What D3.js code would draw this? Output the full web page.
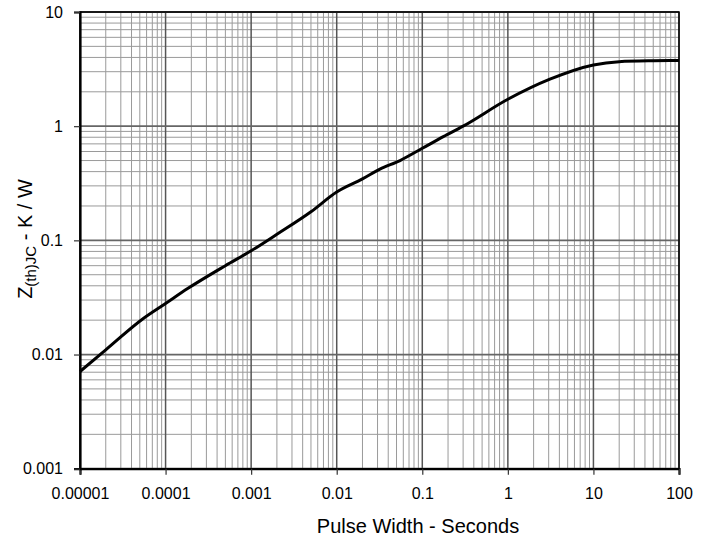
<!DOCTYPE html>
<html><head><meta charset="utf-8">
<script src="https://cdn.jsdelivr.net/npm/d3@7"></script>
<style>body{margin:0;background:#fff}svg{display:block}text{font-family:"Liberation Sans",Arial,sans-serif}</style>
</head><body>
<svg id="c" width="712" height="544"></svg>
<script>
const pulseWidth = [1e-5, 2e-5, 5.4e-5, 1e-4, 1.83e-4, 5e-4, 1e-3, 2e-3, 5e-3, 0.01, 0.02, 0.032, 0.055, 0.1, 0.176, 0.3, 1, 3.1, 10, 20, 50, 100];
const zthjc      = [0.0071, 0.011, 0.0205, 0.028, 0.038, 0.060, 0.081, 0.113, 0.178, 0.265, 0.345, 0.42, 0.50, 0.64, 0.81, 1.0, 1.72, 2.58, 3.44, 3.67, 3.74, 3.76];
const xTicks = [1e-5, 1e-4, 1e-3, 1e-2, 1e-1, 1, 10, 100];
const xTickLabels = ["0.00001", "0.0001", "0.001", "0.01", "0.1", "1", "10", "100"];
const yTicks = [0.001, 0.01, 0.1, 1, 10];
const yTickLabels = ["0.001", "0.01", "0.1", "1", "10"];

const L = 80, R = 679, T = 12, B = 468.7;
const x = d3.scaleLog().domain([1e-5, 100]).range([L, R]);
const y = d3.scaleLog().domain([0.001, 10]).range([B, T]);
const svg = d3.select("#c");

// minor grid
const minorX = [], minorY = [];
for (let e = -5; e < 2; e++) for (let m = 2; m <= 9; m++) minorX.push(m * Math.pow(10, e));
for (let e = -3; e < 1; e++) for (let m = 2; m <= 9; m++) minorY.push(m * Math.pow(10, e));
const g = svg.append("g");
g.selectAll(".mx").data(minorX).enter().append("line")
  .attr("x1", d => x(d)).attr("x2", d => x(d)).attr("y1", T).attr("y2", B)
  .attr("stroke", "#9a9a9a").attr("stroke-width", 1);
g.selectAll(".my").data(minorY).enter().append("line")
  .attr("y1", d => y(d)).attr("y2", d => y(d)).attr("x1", L).attr("x2", R)
  .attr("stroke", "#9a9a9a").attr("stroke-width", 1);
g.selectAll(".Mx").data(xTicks).enter().append("line")
  .attr("x1", d => x(d)).attr("x2", d => x(d)).attr("y1", T).attr("y2", B)
  .attr("stroke", "#555").attr("stroke-width", 1.5);
g.selectAll(".My").data(yTicks).enter().append("line")
  .attr("y1", d => y(d)).attr("y2", d => y(d)).attr("x1", L).attr("x2", R)
  .attr("stroke", "#666").attr("stroke-width", 1.8);

// frame
svg.append("rect").attr("x", L).attr("y", T).attr("width", R - L).attr("height", B - T)
  .attr("fill", "none").attr("stroke", "#000").attr("stroke-width", 1.5);

// axes
const xAxis = d3.axisBottom(x).tickValues(xTicks).tickFormat((d, i) => xTickLabels[i]).tickSize(6).tickPadding(13);
const yAxis = d3.axisLeft(y).tickValues(yTicks).tickFormat((d, i) => yTickLabels[i]).tickSize(6).tickPadding(11);
const gx = svg.append("g").attr("transform", `translate(0,${B})`).call(xAxis);
const gy = svg.append("g").attr("transform", `translate(${L},0)`).call(yAxis);
[gx, gy].forEach(a => {
  a.select(".domain").attr("stroke", "#000").attr("stroke-width", 2.2);
  a.selectAll(".tick line").attr("stroke", "#333").attr("stroke-width", 1.2);
  a.selectAll("text").attr("font-size", 16).attr("fill", "#000")
   .attr("font-family", "'Liberation Sans', Arial, sans-serif");
});

// curve
const line = d3.line().x((d, i) => x(pulseWidth[i])).y(d => y(d)).curve(d3.curveMonotoneX);
svg.append("path").datum(zthjc).attr("d", line).attr("fill", "none")
  .attr("stroke", "#000").attr("stroke-width", 3).attr("stroke-linejoin", "round");

// titles
svg.append("text").attr("x", 418).attr("y", 533).attr("text-anchor", "middle")
  .attr("font-size", 20).text("Pulse Width - Seconds");
const yt = svg.append("text").attr("transform", "translate(32,239) rotate(-90)")
  .attr("text-anchor", "middle").attr("font-size", 20);
yt.append("tspan").text("Z");
yt.append("tspan").attr("font-size", 15).attr("dy", 4).text("(th)JC");
yt.append("tspan").attr("dy", -4).text(" - K / W");
</script>
</body></html>
